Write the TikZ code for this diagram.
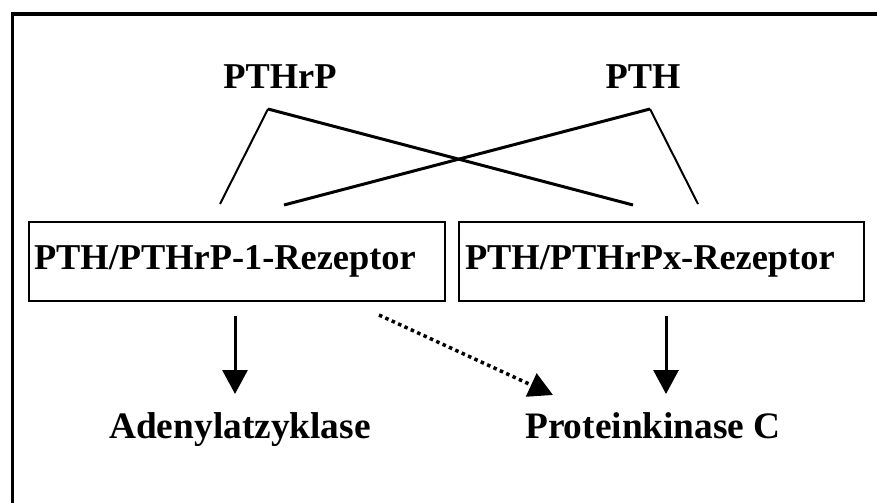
\documentclass[tikz,border=0pt]{standalone}
\usepackage{fontspec}
\setmainfont{Liberation Serif}
\usetikzlibrary{arrows.meta}
\begin{document}
\begin{tikzpicture}[x=1bp,y=-1bp,
  lbl/.style={font=\fontsize{36.5}{40}\selectfont\bfseries, inner sep=0pt, anchor=base},
  effector/.style={lbl, font=\fontsize{37.5}{41}\selectfont\bfseries},
  recbox/.style={draw, line width=2bp, font=\fontsize{36.5}{40}\selectfont\bfseries,
    align=left, minimum height=79bp, inner ysep=0pt, anchor=north west},
  thinleg/.style={line width=2bp},
  crossleg/.style={line width=3bp},
  sig/.style={line width=3bp, -{Triangle[width=25bp,length=24bp]}},
  sigdot/.style={line width=3.5bp, dash pattern=on 3.5bp off 3.5bp,
    -{Triangle[width=25bp,length=24bp]}}]
  \useasboundingbox (0,0) rectangle (877,503);
  \fill[white] (0,0) rectangle (877,503);

  % outer frame (open to the right and bottom)
  \draw[line width=3.5bp] (890,14) -- (12.5,14) -- (12.5,515);

  % ligands
  \node[lbl] (pthrp) at (280,89) {PTHrP};
  \node[lbl] (pth)   at (643,89) {PTH};

  % receptors
  \node[recbox, inner xsep=5bp, text width=406bp] (r1) at (28,221) {PTH/PTHrP-1-Rezeptor};
  \node[recbox, inner xsep=6bp, text width=393bp] (rx) at (458,221) {PTH/PTHrPx-Rezeptor};

  % effectors
  \node[effector] (ac)  at (240,438) {Adenylatzyklase};
  \node[effector] (pkc) at (653,438) {Proteinkinase C};

  % binding lines
  \coordinate (apA) at (268,109);
  \coordinate (apB) at (650,109);
  \coordinate (r1a) at (220,204);
  \coordinate (r1b) at (284,205);
  \coordinate (rxa) at (633,205);
  \coordinate (rxb) at (698,204);
  \draw[thinleg]  (apA) -- (r1a);
  \draw[crossleg] (apA) -- (rxa);
  \draw[thinleg]  (apB) -- (rxb);
  \draw[crossleg] (apB) -- (r1b);

  % signalling arrows
  \coordinate (s1) at (235,316);
  \coordinate (e1) at (235,394);
  \coordinate (s2) at (666,316);
  \coordinate (e2) at (666,394);
  \coordinate (s3) at (379,315);
  \coordinate (e3) at (553,395);
  \draw[sig] (s1) -- (e1);
  \draw[sig] (s2) -- (e2);
  \draw[sigdot] (s3) -- (e3);
\end{tikzpicture}
\end{document}
